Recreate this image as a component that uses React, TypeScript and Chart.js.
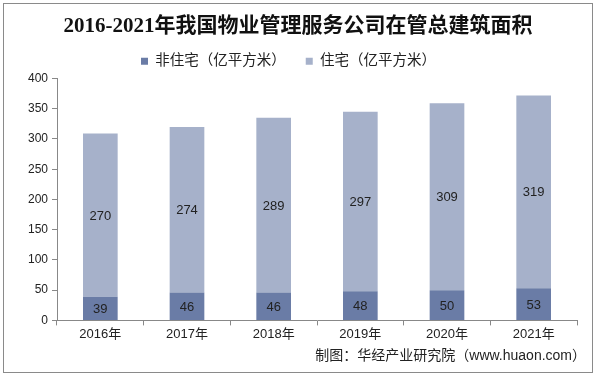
import React, { useEffect, useRef } from "react";
import { Chart, registerables } from "chart.js";

Chart.register(...registerables);

const categories = ["2016年", "2017年", "2018年", "2019年", "2020年", "2021年"];
const nonResidential = [39, 46, 46, 48, 50, 53];
const residential = [270, 274, 289, 297, 309, 319];
const seriesNames = ["非住宅（亿平方米）", "住宅（亿平方米）"];
const titleText = "2016-2021年我国物业管理服务公司在管总建筑面积";
const sourceText = "制图：华经产业研究院（www.huaon.com）";

const DARK = "#6A7CA6";
const LIGHT = "#A6B1CA";
const SANS = "'Liberation Sans', Arial, 'Noto Sans CJK SC', sans-serif";

const labelPlugin = {
  id: "segLabels",
  afterDatasetsDraw(chart: any) {
    const ctx = chart.ctx;
    ctx.save();
    ctx.font = "13px " + SANS;
    ctx.fillStyle = "#222";
    ctx.textAlign = "center";
    ctx.textBaseline = "middle";
    chart.data.datasets.forEach((ds: any, i: number) => {
      const meta = chart.getDatasetMeta(i);
      meta.data.forEach((el: any, j: number) => {
        const p = el.getProps(["x", "y", "base"], true);
        ctx.fillText(String(ds.data[j]), p.x, (p.y + p.base) / 2 + 1);
      });
    });
    ctx.restore();
  },
};

const framePlugin = {
  id: "frame",
  afterDraw(chart: any) {
    const ctx = chart.ctx;
    ctx.save();
    ctx.strokeStyle = "#8a8a8a";
    ctx.lineWidth = 1;
    ctx.strokeRect(3.5, 3.5, 589, 369);
    ctx.font = "bold 21px 'Liberation Serif', 'Noto Sans CJK SC', serif";
    ctx.fillStyle = "#111";
    ctx.textAlign = "center";
    ctx.textBaseline = "middle";
    ctx.fillText(titleText, 298, 27);
    ctx.font = "14px " + SANS;
    ctx.fillStyle = "#222";
    ctx.textAlign = "right";
    ctx.fillText(sourceText, 586, 356);
    ctx.restore();
  },
};

export default function App() {
  const ref = useRef<HTMLCanvasElement>(null);
  useEffect(() => {
    document.body.style.margin = "0";
    const chart = new Chart(ref.current as HTMLCanvasElement, {
      type: "bar",
      data: {
        labels: categories,
        datasets: [
          { label: seriesNames[0], data: nonResidential, backgroundColor: DARK, barPercentage: 0.4, categoryPercentage: 1 },
          { label: seriesNames[1], data: residential, backgroundColor: LIGHT, barPercentage: 0.4, categoryPercentage: 1 },
        ],
      },
      options: {
        animation: false,
        responsive: false,
        layout: { padding: { left: 0, right: 19, top: 34, bottom: 32 } },
        plugins: {
          title: { display: false },
          legend: {
            display: true,
            labels: {
              boxWidth: 7,
              boxHeight: 7,
              padding: 20,
              font: { family: SANS, size: 14.5 },
              color: "#222",
            },
          },
          tooltip: { enabled: false },
        },
        scales: {
          x: {
            stacked: true,
            grid: { display: true, drawOnChartArea: false, offset: true, tickLength: 5, color: "#888" },
            border: { color: "#888" },
            ticks: { font: { family: SANS, size: 13 }, color: "#222", padding: 1 },
          },
          y: {
            stacked: true,
            min: 0,
            max: 400,
            afterFit(scale: any) { scale.width = 57; },
            grid: { display: true, drawOnChartArea: false, tickLength: 5, color: "#888" },
            border: { color: "#888" },
            ticks: { stepSize: 50, font: { family: SANS, size: 12 }, color: "#222", padding: 4 },
          },
        },
      },
      plugins: [labelPlugin, framePlugin],
    });
    return () => chart.destroy();
  }, []);
  return (
    <div style={{ width: 596, height: 375, background: "#fff" }}>
      <canvas ref={ref} width={596} height={375} style={{ display: "block" }} />
    </div>
  );
}
